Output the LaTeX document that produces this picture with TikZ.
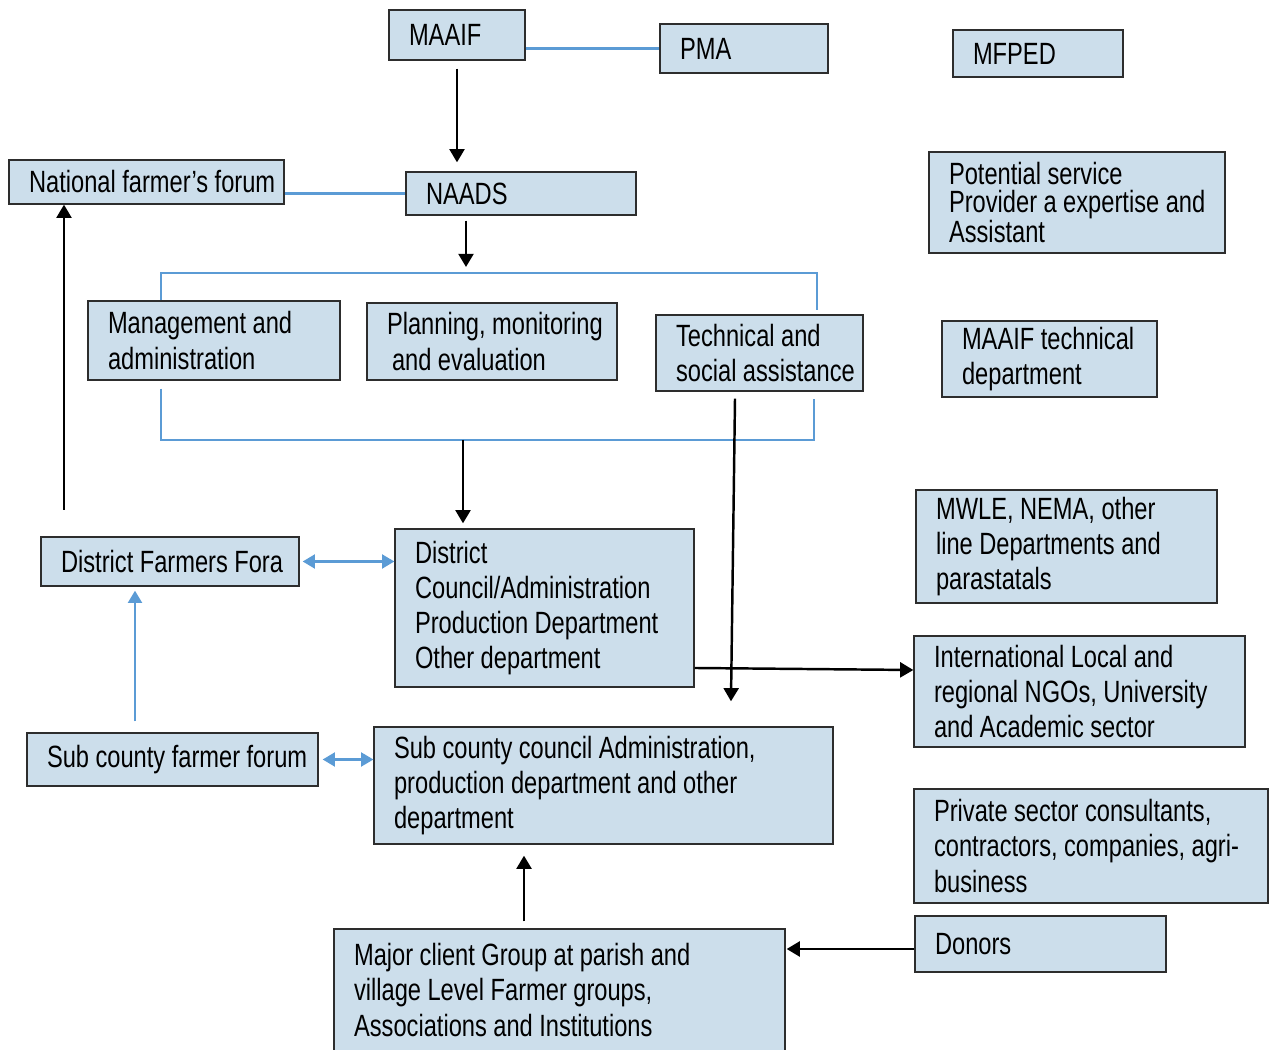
\documentclass[tikz,border=0pt]{standalone}
\usepackage{fontspec}
\setmainfont{Liberation Sans}[FakeStretch=0.77]
\usetikzlibrary{arrows.meta}
\definecolor{boxfill}{RGB}{204,222,235}
\definecolor{boxline}{RGB}{45,45,45}
\definecolor{linkblue}{RGB}{91,155,213}
\newcommand\chartfont{\fontsize{17.5}{20}\selectfont}
\begin{document}
\begin{tikzpicture}[x=0.02cm, y=-0.02cm,
  box/.style={draw=boxline, line width=0.8pt, fill=boxfill, text width=#1cm-0.2cm,
    inner xsep=0.1cm, inner ysep=0pt, align=left, font=\chartfont,
    execute at begin node={\leftskip=0.3cm\spaceskip=0.21em plus 0.1em minus 0.05em
      \xspaceskip=\spaceskip\hyphenpenalty=10000\exhyphenpenalty=10000}},
  blackarrow/.style={line width=1.4pt, -{Triangle[length=7.5pt,width=8.5pt]}},
  blueline/.style={draw=linkblue, line width=1.2pt},
  bluearrow/.style={blueline, -{Triangle[length=7pt,width=8pt]}},
  bluearrows/.style={blueline, {Triangle[length=7pt,width=8pt]}-{Triangle[length=7pt,width=8pt]}}]
\useasboundingbox (0,0) rectangle (1269,1050);

\node[box=2.72, minimum height=1cm] (maaif) at (457,35) {MAAIF};
\node[box=3.36, minimum height=0.98cm] (pma) at (744,48.5) {PMA};
\node[box=3.4, minimum height=0.94cm] (mfped) at (1038,53.5) {MFPED};
\node[box=5.5, minimum height=0.88cm] (nff) at (146.5,182) {National farmer’s forum};
\node[box=4.6, minimum height=0.86cm] (naads) at (521,193.5) {NAADS};
\node[box=5.92, minimum height=2.02cm, font=\fontsize{17.5}{16}\selectfont] (potential) at (1077,202.5)
  {Potential service\\Provider a expertise and\\Assistant};
\node[box=5.04, minimum height=1.58cm] (mgmt) at (214,340.5) {Management and\\administration};
\node[box=5, minimum height=1.54cm] (plan) at (492,341.5) {Planning, monitoring\\\hspace*{0.1cm}and evaluation};
\node[box=4.14, minimum height=1.52cm] (tech) at (759.5,353) {Technical and\\social assistance};
\node[box=4.3, minimum height=1.52cm] (maaiftech) at (1049.5,359) {MAAIF technical\\department};
\node[box=6.02, minimum height=2.26cm] (mwle) at (1066.5,546.5) {MWLE, NEMA, other\\line Departments and\\parastatals};
\node[box=5.16, minimum height=0.98cm] (dff) at (170,561.5) {District Farmers Fora};
\node[box=5.98, minimum height=3.16cm] (district) at (544.5,608)
  {District\\Council/Administration\\Production Department\\Other department};
\node[box=6.62, minimum height=2.22cm] (intl) at (1079.5,691.5)
  {International Local and\\regional NGOs, University\\and Academic sector};
\node[box=5.82, minimum height=1.06cm] (scff) at (172.5,759.5) {Sub county farmer forum};
\node[box=9.18, minimum height=2.34cm] (sccouncil) at (603.5,785.5)
  {Sub county council Administration,\\production department and other\\department};
\node[box=7.08, minimum height=2.28cm] (private) at (1091,846)
  {Private sector consultants,\\contractors, companies, agri-\\business};
\node[box=5.02, minimum height=1.12cm, line width=1.6pt] (donors) at (1040.5,944) {Donors};
\node[box=9.02, minimum height=2.44cm] (client) at (559.5,990)
  {Major client Group at parish and\\village Level Farmer groups,\\Associations and Institutions};

\coordinate (toplft) at (161,273);
\coordinate (toprgt) at (817,273);
\coordinate (tophub) at (466,273);
\coordinate (botlft) at (161,440);
\coordinate (botrgt) at (814,440);
\coordinate (bothub) at (463,440);
\coordinate (nffup) at (64,510);
\coordinate (scffup) at ([xshift=-0.75cm]scff.north);
\coordinate (clientup) at ([xshift=-0.71cm]client.north);
\coordinate (donorsout) at ([yshift=-0.1cm]donors.west);

\draw[blueline] (maaif.east |- pma.west) -- (pma.west);
\draw[blueline] (nff.east |- naads.west) -- (naads.west);
\draw[blackarrow, shorten <=0.16cm, shorten >=0.18cm] (maaif.south) -- (maaif.south |- naads.north);
\draw[blackarrow, shorten <=0.1cm, shorten >=0.12cm] (tophub |- naads.south) -- (tophub);
\draw[blueline, shorten >=0.08cm] (toplft |- mgmt.north) -- (toplft) -- (toprgt) -- (toprgt |- tech.north);
\draw[blueline, shorten <=0.16cm, shorten >=0.14cm] (botlft |- mgmt.south) -- (botlft) -- (botrgt) -- (botrgt |- tech.south);
\draw[blackarrow, shorten >=0.1cm] (bothub) -- (bothub |- district.north);
\draw[blackarrow] ([xshift=-0.49cm,yshift=-0.14cm]tech.south) -- ([xshift=2.55cm,yshift=0.5cm]sccouncil.north);
\draw[blackarrow] ([yshift=-1.2cm]district.east) -- ([yshift=0.43cm]intl.west);
\draw[blackarrow] (nffup) -- (nffup |- nff.south);
\draw[bluearrows, shorten <=0.06cm] (dff.east) -- (dff.east -| district.west);
\draw[bluearrow, shorten <=0.22cm, shorten >=0.08cm] (scffup) -- (scffup |- dff.south);
\draw[bluearrows, shorten <=0.08cm] (scff.east) -- (scff.east -| sccouncil.west);
\draw[blackarrow, shorten <=0.14cm, shorten >=0.22cm] (clientup) -- (clientup |- sccouncil.south);
\draw[blackarrow, shorten >=0.02cm] (donorsout) -- (donorsout -| client.east);
\end{tikzpicture}
\end{document}
